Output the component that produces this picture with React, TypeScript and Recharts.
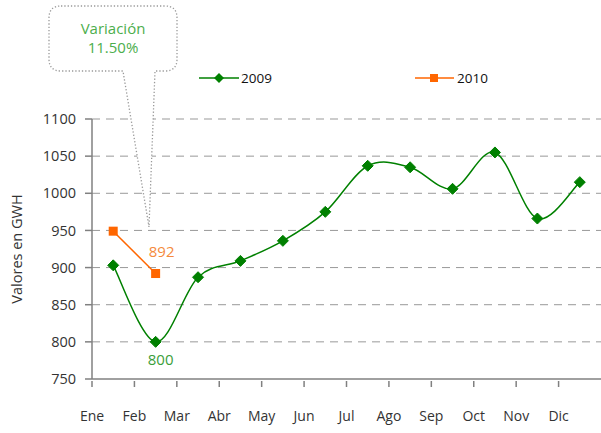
import React from "react";
import { LineChart, Line, XAxis, YAxis, CartesianGrid, LabelList } from "recharts";

const months = ["Ene", "Feb", "Mar", "Abr", "May", "Jun", "Jul", "Ago", "Sep", "Oct", "Nov", "Dic"];
const values2009 = [903, 800, 887, 909, 936, 975, 1037, 1035, 1006, 1055, 966, 1015];
const values2010: (number | null)[] = [949, 892, null, null, null, null, null, null, null, null, null, null];
const yTicks = [750, 800, 850, 900, 950, 1000, 1050, 1100];
const seriesNames = ["2009", "2010"];
const labeledIndex2009 = 1;
const labeledIndex2010 = 1;
const calloutLines = ["Variación", "11.50%"];

const data = months.map((m, i) => ({ month: m, y2009: values2009[i], y2010: values2010[i] }));

const W = 601;
const H = 433;
const LEFT = 92;
const FONT = "'Open Sans', sans-serif";
const GREEN = "#008000";
const ORANGE = "#ff6600";
const HALF_BAND = (W - LEFT) / months.length / 2;

const catmull = (context: any) => {
  let pts: [number, number][] = [];
  return {
    areaStart() {},
    areaEnd() {},
    lineStart() {
      pts = [];
    },
    point(x: number, y: number) {
      pts.push([+x, +y]);
    },
    lineEnd() {
      const n = pts.length;
      if (!n) return;
      context.moveTo(pts[0][0], pts[0][1]);
      for (let i = 0; i < n - 1; i++) {
        const p0 = pts[i - 1] || pts[i];
        const p1 = pts[i];
        const p2 = pts[i + 1];
        const p3 = pts[i + 2] || p2;
        context.bezierCurveTo(
          p1[0] + (p2[0] - p0[0]) / 6,
          p1[1] + (p2[1] - p0[1]) / 6,
          p2[0] - (p3[0] - p1[0]) / 6,
          p2[1] - (p3[1] - p1[1]) / 6,
          p2[0],
          p2[1]
        );
      }
    },
  };
};

const Diamond = (props: any) => {
  const { cx, cy, index } = props;
  if (cx == null || cy == null) return <g key={index} />;
  const r = 5.5;
  return (
    <polygon
      key={index}
      points={`${cx},${cy - r} ${cx + r},${cy} ${cx},${cy + r} ${cx - r},${cy}`}
      fill={GREEN}
      stroke={GREEN}
    />
  );
};

const Square = (props: any) => {
  const { cx, cy, index } = props;
  if (cx == null || cy == null) return <g key={index} />;
  const s = 4.5;
  return <rect key={index} x={cx - s} y={cy - s} width={2 * s} height={2 * s} fill={ORANGE} />;
};

const XTick = (props: any) => {
  const { x, y, payload } = props;
  const ex = x - HALF_BAND;
  return (
    <g>
      <line x1={ex} x2={ex} y1={y - 6} y2={y} stroke="#808080" strokeWidth={1.5} />
      <text x={ex} y={y + 34} textAnchor="middle" fontFamily={FONT} fontSize={14} fill="#333">
        {payload.value}
      </text>
    </g>
  );
};

const label2009 = (props: any) => {
  const { x, y, index, value } = props;
  if (index !== labeledIndex2009) return null;
  return (
    <text x={x + 5} y={y + 23} textAnchor="middle" fontFamily={FONT} fontSize={15} fill="#3a9e3a">
      {value}
    </text>
  );
};

const label2010 = (props: any) => {
  const { x, y, index, value } = props;
  if (index !== labeledIndex2010) return null;
  return (
    <text x={x + 6} y={y - 17} textAnchor="middle" fontFamily={FONT} fontSize={15} fill="#f58a3c">
      {value}
    </text>
  );
};

const Overlay = () => (
  <svg width={W} height={H} style={{ position: "absolute", left: 0, top: 0, pointerEvents: "none" }}>
    <path
      d="M 61 6 L 165 6 Q 177 6 177 18 L 177 59 Q 177 71 165 71 L 155 71 L 149 227 L 123 71 L 61 71 Q 49 71 49 59 L 49 18 Q 49 6 61 6 Z"
      fill="#fff"
      stroke="#999"
      strokeWidth={1.3}
      strokeDasharray="1.3 2"
    />
    <text x={113} y={34} textAnchor="middle" fontFamily={FONT} fontSize={15} fill="#4cae4c">
      {calloutLines[0]}
    </text>
    <text x={113} y={53} textAnchor="middle" fontFamily={FONT} fontSize={15} fill="#4cae4c">
      {calloutLines[1]}
    </text>
    <line x1={199} x2={239} y1={78} y2={78} stroke={GREEN} strokeWidth={1.5} />
    <polygon points="219,73 224,78 219,83 214,78" fill={GREEN} />
    <text x={241} y={83} fontFamily={FONT} fontSize={13.5} fontWeight={500} fill="#111">{seriesNames[0]}</text>
    <line x1={415} x2={454} y1={78} y2={78} stroke={ORANGE} strokeWidth={1.5} />
    <rect x={430} y={74} width={8} height={8} fill={ORANGE} />
    <text x={457} y={83} fontFamily={FONT} fontSize={13.5} fontWeight={500} fill="#111">{seriesNames[1]}</text>
  </svg>
);

export default function App() {
  return (
    <div style={{ position: "absolute", left: 0, top: 0, width: W, height: H, background: "#fff" }}>
      <LineChart width={W} height={H} data={data} margin={{ top: 119, right: 0, bottom: 0, left: 0 }}>
        <CartesianGrid vertical={false} stroke="#999" strokeDasharray="8 6" horizontalValues={yTicks.slice(1)} />
        <XAxis
          dataKey="month"
          scale="band"
          height={54}
          axisLine={{ stroke: "#808080", strokeWidth: 1.5 }}
          tickLine={false}
          tick={<XTick />}
          interval={0}
        />
        <YAxis
          width={LEFT}
          domain={[750, 1100]}
          ticks={yTicks}
          interval={0}
          axisLine={{ stroke: "#808080", strokeWidth: 1.5 }}
          tickLine={{ stroke: "#808080", strokeWidth: 1.5 }}
          tickSize={7}
          tickMargin={9}
          tick={{ fontFamily: FONT, fontSize: 14.5, fill: "#333" }}
          label={{
            value: "Valores en GWH",
            angle: -90,
            position: "insideLeft",
            offset: 17,
            style: { fontFamily: FONT, fontSize: 14.5, fill: "#333", textAnchor: "middle" },
          }}
        />
        <Line
          dataKey="y2009"
          type={catmull as any}
          stroke={GREEN}
          strokeWidth={1.5}
          dot={<Diamond />}
          activeDot={false}
          isAnimationActive={false}
        >
          <LabelList dataKey="y2009" content={label2009} />
        </Line>
        <Line
          dataKey="y2010"
          type="linear"
          stroke={ORANGE}
          strokeWidth={1.5}
          dot={<Square />}
          activeDot={false}
          isAnimationActive={false}
        >
          <LabelList dataKey="y2010" content={label2010} />
        </Line>
      </LineChart>
      <Overlay />
    </div>
  );
}
